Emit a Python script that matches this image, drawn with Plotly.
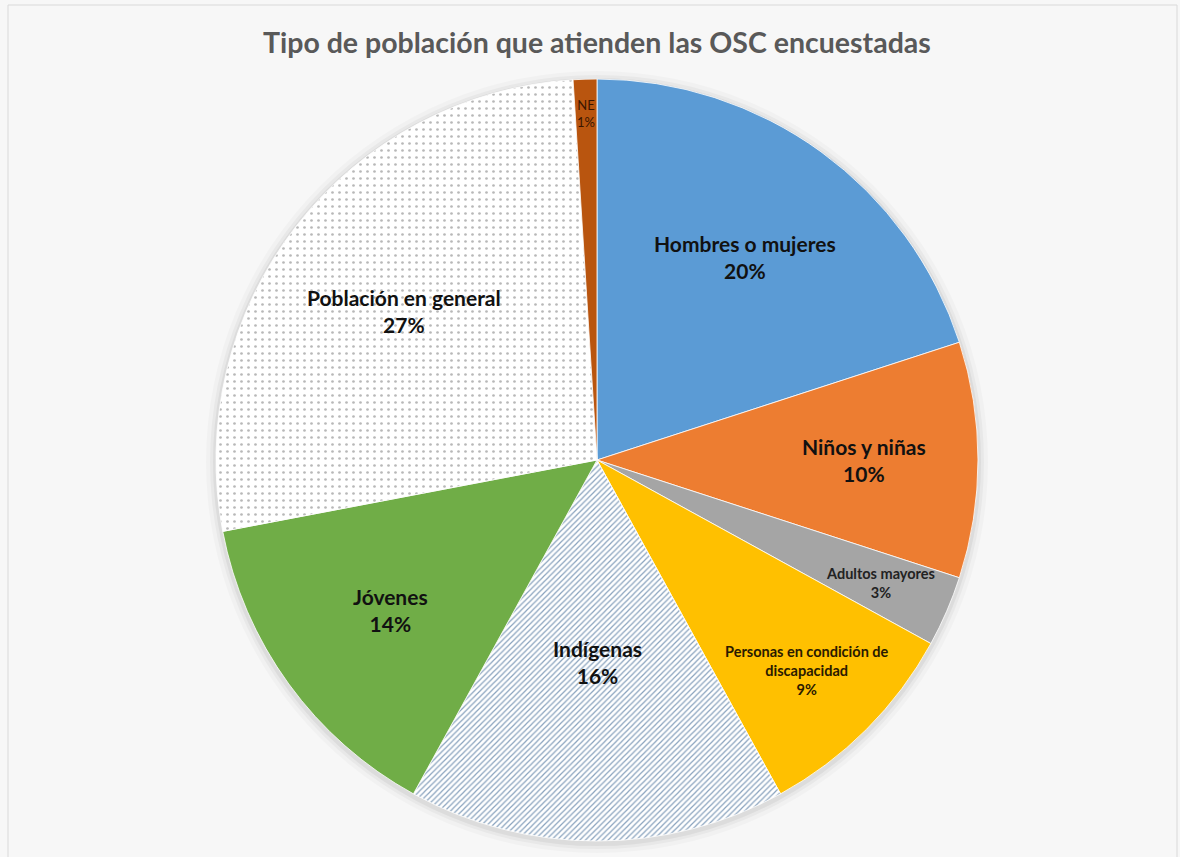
import math
import plotly.graph_objects as go

# Survey results: population groups served by the surveyed organisations (%)
labels = [
    "Hombres o mujeres",
    "Niños y niñas",
    "Adultos mayores",
    "Personas en condición de discapacidad",
    "Indígenas",
    "Jóvenes",
    "Población en general",
    "NE",
]
values = [20, 10, 3, 9, 16, 14, 27, 1]

# Label text as shown on each slice (line breaks for long names)
label_text = [
    "Hombres o mujeres",
    "Niños y niñas",
    "Adultos mayores",
    "Personas en condición de<br>discapacidad",
    "Indígenas",
    "Jóvenes",
    "Población en general",
    "NE",
]

# Styling per slice
colors = ["#5B9BD5", "#ED7D31", "#A5A5A5", "#FFC000", "#FFFFFF", "#70AD47", "#FFFFFF", "#B9550F"]
pattern_shapes = ["", "", "", "", "/", "", ".", ""]
pattern_fg = ["#000", "#000", "#000", "#000", "#8AA3BE", "#000", "#B8B8B8", "#000"]
label_sizes = [21, 21, 14.5, 14.5, 21, 21, 21, 13]
label_bold = [True, True, True, True, True, True, True, False]
label_radius = [0.66, 0.70, 0.81, 0.78, 0.53, 0.67, 0.64, 0.91]
label_color = ["#111", "#111", "#222", "#2a1a00", "#111", "#111", "#111", "#3a1500"]

W, H = 1180, 857
L, R_, T, B = 20, 6, 79, 16
plot_w = W - L - R_
plot_h = H - T - B
radius = min(plot_w, plot_h) / 2

fig = go.Figure(
    go.Pie(
        labels=labels,
        values=values,
        sort=False,
        direction="clockwise",
        rotation=0,
        textinfo="none",
        hoverinfo="label+percent",
        marker=dict(
            colors=colors,
            line=dict(color="#FFFFFF", width=0.8),
            pattern=dict(
                shape=pattern_shapes,
                fgcolor=pattern_fg,
                bgcolor=colors,
                size=[8, 8, 8, 8, 4, 8, 7, 8],
                solidity=[0.3, 0.3, 0.3, 0.3, 0.3, 0.3, 0.12, 0.3],
                fillmode="replace",
            ),
        ),
        showlegend=False,
        domain=dict(x=[0, 1], y=[0, 1]),
    )
)

# Slice labels placed along each slice's mid-angle
total = sum(values)
cum = 0
annotations = []
for i, v in enumerate(values):
    mid = (cum + v / 2) / total * 2 * math.pi
    cum += v
    f = label_radius[i]
    x = 0.5 + f * radius * math.sin(mid) / plot_w
    y = 0.5 + f * radius * math.cos(mid) / plot_h
    pct = round(v / total * 100)
    txt = f"{label_text[i]}<br>{pct}%"
    if label_bold[i]:
        txt = f"<b>{txt}</b>"
    annotations.append(
        dict(
            x=x, y=y, xref="paper", yref="paper", text=txt, showarrow=False,
            font=dict(size=label_sizes[i], color=label_color[i], family="Lato, Open Sans, sans-serif"),
            align="center", xanchor="center", yanchor="middle",
        )
    )

annotations.append(
    dict(
        x=0.5, y=1 + (T - 42) / plot_h, xref="paper", yref="paper",
        text="<b>Tipo de población que atienden las OSC encuestadas</b>",
        showarrow=False, xanchor="center", yanchor="middle",
        font=dict(size=28.5, color="#595959", family="Lato, Open Sans, sans-serif"),
    )
)

# Soft shadow behind the pie
shapes = []
for d, a in [(10, 0.025), (6, 0.035), (3, 0.05)]:
    shapes.append(
        dict(
            type="circle", xref="paper", yref="paper", layer="below",
            x0=0.5 - (radius + d) / plot_w, x1=0.5 + (radius + d) / plot_w,
            y0=0.5 - (radius + d) / plot_h - 2 / plot_h, y1=0.5 + (radius + d) / plot_h - 2 / plot_h,
            fillcolor=f"rgba(0,0,0,{a})", line=dict(width=0),
        )
    )

# Chart frame
shapes.append(
    dict(
        type="rect", xref="paper", yref="paper", layer="below",
        x0=(8 - L) / plot_w, x1=(1177 - L) / plot_w,
        y0=-(B + 20) / plot_h, y1=1 + (T - 5) / plot_h,
        line=dict(color="#D9D9D9", width=1), fillcolor="rgba(0,0,0,0)",
    )
)

fig.update_layout(
    width=W, height=H,
    margin=dict(l=L, r=R_, t=T, b=B),
    paper_bgcolor="#F7F7F7",
    plot_bgcolor="#F7F7F7",
    annotations=annotations,
    shapes=shapes,
)

fig.write_html("out.html")
